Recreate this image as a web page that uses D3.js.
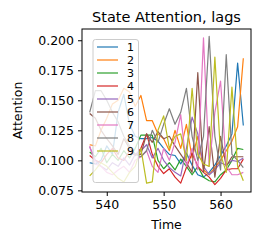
<!DOCTYPE html>
<html>
    <head>
        <title>State Attention, lags</title>
        <script src="https://d3js.org/d3.v7.min.js"></script>
        <style>
            body { margin: 0; background: white; }
            text { font-family: "DejaVu Sans", sans-serif; fill: black; }
        </style>
    </head>
    <body>
        <div id="chart"></div>
        <script>
            // time steps and one array per lag
            let times = d3.range(537, 565);
            let lagNames = ["1", "2", "3", "4", "5", "6", "7", "8", "9"];
            let lag1 = [0.098, 0.097, 0.100, 0.112, 0.105, 0.140, 0.155, 0.130, 0.120, 0.118, 0.118, 0.119, 0.116, 0.110, 0.105, 0.104, 0.097, 0.106, 0.096, 0.088, 0.086, 0.090, 0.096, 0.104, 0.112, 0.122, 0.181, 0.129];
            let lag2 = [0.113, 0.112, 0.125, 0.135, 0.147, 0.150, 0.160, 0.157, 0.145, 0.154, 0.133, 0.133, 0.122, 0.118, 0.108, 0.125, 0.110, 0.130, 0.102, 0.120, 0.092, 0.088, 0.094, 0.100, 0.108, 0.116, 0.128, 0.185];
            let lag3 = [0.107, 0.103, 0.110, 0.098, 0.105, 0.100, 0.108, 0.102, 0.110, 0.121, 0.121, 0.121, 0.100, 0.093, 0.098, 0.092, 0.101, 0.095, 0.088, 0.095, 0.086, 0.083, 0.082, 0.088, 0.092, 0.100, 0.110, 0.109];
            let lag4 = [0.104, 0.100, 0.098, 0.105, 0.110, 0.102, 0.100, 0.108, 0.104, 0.110, 0.122, 0.105, 0.095, 0.089, 0.093, 0.086, 0.081, 0.094, 0.106, 0.095, 0.090, 0.086, 0.0798, 0.085, 0.092, 0.093, 0.093, 0.101];
            let lag5 = [0.111, 0.100, 0.095, 0.092, 0.098, 0.095, 0.102, 0.096, 0.105, 0.108, 0.113, 0.102, 0.110, 0.100, 0.094, 0.090, 0.087, 0.110, 0.136, 0.122, 0.095, 0.088, 0.092, 0.098, 0.096, 0.100, 0.099, 0.102];
            let lag6 = [0.139, 0.135, 0.125, 0.118, 0.112, 0.105, 0.118, 0.110, 0.105, 0.105, 0.122, 0.115, 0.124, 0.118, 0.120, 0.112, 0.105, 0.098, 0.090, 0.173, 0.090, 0.128, 0.086, 0.120, 0.095, 0.103, 0.103, 0.103];
            let lag7 = [0.112, 0.097, 0.095, 0.090, 0.088, 0.092, 0.095, 0.090, 0.100, 0.103, 0.108, 0.095, 0.090, 0.110, 0.100, 0.115, 0.138, 0.095, 0.110, 0.092, 0.202, 0.095, 0.140, 0.166, 0.095, 0.088, 0.088, 0.090];
            let lag8 = [0.140, 0.158, 0.158, 0.150, 0.140, 0.132, 0.120, 0.112, 0.105, 0.103, 0.108, 0.125, 0.115, 0.130, 0.143, 0.130, 0.140, 0.160, 0.120, 0.100, 0.120, 0.2032, 0.120, 0.092, 0.188, 0.105, 0.100, 0.094];
            let lag9 = [0.087, 0.092, 0.098, 0.095, 0.090, 0.085, 0.082, 0.090, 0.095, 0.110, 0.081, 0.082, 0.125, 0.137, 0.110, 0.120, 0.122, 0.100, 0.160, 0.105, 0.097, 0.095, 0.186, 0.105, 0.090, 0.161, 0.095, 0.083];
            let lags = [lag1, lag2, lag3, lag4, lag5, lag6, lag7, lag8, lag9];
            let yTicks = [0.075, 0.100, 0.125, 0.150, 0.175, 0.200];
            let xTicks = [540, 550, 560];

            let width = 261, height = 243;
            let plot = {left: 82, right: 251, top: 29, bottom: 192};

            let svg = d3.select("#chart").append("svg")
                        .attr("width", width).attr("height", height)
                        .style("background-color", "white");

            // matplotlib style 5% margins around the data
            function padded(lo, hi) {
                let m = (hi - lo) * 0.05;
                return [lo - m, hi + m];
            }
            let allVals = lags.flat();
            let x = d3.scaleLinear()
                      .domain(padded(d3.min(times), d3.max(times)))
                      .range([plot.left, plot.right]);
            let y = d3.scaleLinear()
                      .domain(padded(d3.min(allVals), d3.max(allVals)))
                      .range([plot.bottom, plot.top]);

            let color = d3.scaleOrdinal()
                          .domain(lagNames)
                          .range(d3.schemeCategory10);

            // lines, clipped to the axes box
            svg.append("clipPath").attr("id", "clip")
               .append("rect")
               .attr("x", plot.left).attr("y", plot.top)
               .attr("width", plot.right - plot.left).attr("height", plot.bottom - plot.top);

            let line = d3.line()
                         .x((d, i) => x(times[i]))
                         .y(d => y(d));

            svg.append("g").attr("clip-path", "url(#clip)")
               .selectAll("path")
               .data(lags)
               .join("path")
               .attr("d", line)
               .style("fill", "none")
               .style("stroke", (d, i) => color(lagNames[i]))
               .style("stroke-width", 1.2)
               .style("stroke-linejoin", "round");

            // axes
            let xAxis = d3.axisBottom(x).tickValues(xTicks).tickSize(4).tickPadding(4)
                          .tickFormat(d3.format("d"));
            let yAxis = d3.axisLeft(y).tickValues(yTicks).tickSize(4).tickPadding(4)
                          .tickFormat(d3.format(".3f"));

            let gx = svg.append("g")
                        .attr("transform", "translate(0," + plot.bottom + ")")
                        .call(xAxis);
            let gy = svg.append("g")
                        .attr("transform", "translate(" + plot.left + ",0)")
                        .call(yAxis);
            [gx, gy].forEach(g => {
                g.select(".domain").remove();
                g.selectAll(".tick line").style("stroke", "black").style("stroke-width", 1);
                g.selectAll(".tick text").style("font-size", "12.5px").style("font-family", "DejaVu Sans").style("fill", "black");
            });

            // frame
            svg.append("rect")
               .attr("x", plot.left).attr("y", plot.top)
               .attr("width", plot.right - plot.left).attr("height", plot.bottom - plot.top)
               .style("fill", "none").style("stroke", "black").style("stroke-width", 1);

            // labels
            svg.append("text")
               .attr("x", (plot.left + plot.right) / 2).attr("y", 21.5)
               .attr("text-anchor", "middle")
               .style("font-size", "14.5px")
               .text("State Attention, lags");

            svg.append("text")
               .attr("x", (plot.left + plot.right) / 2).attr("y", 229)
               .attr("text-anchor", "middle")
               .style("font-size", "12.5px")
               .text("Time");

            svg.append("text")
               .attr("transform", "translate(21.5," + ((plot.top + plot.bottom) / 2) + ") rotate(-90)")
               .attr("text-anchor", "middle")
               .style("font-size", "12.5px")
               .text("Attention");

            // legend
            let legend = svg.append("g").attr("transform", "translate(93,39.5)");
            legend.append("rect")
                  .attr("width", 45.5).attr("height", 143)
                  .attr("rx", 2.5).attr("ry", 2.5)
                  .style("fill", "white").style("fill-opacity", 0.8)
                  .style("stroke", "#cccccc").style("stroke-width", 1);

            let rowY = d3.scaleLinear().domain([0, 8]).range([7.5, 111.5]);
            let rows = legend.selectAll("g.row")
                             .data(lagNames)
                             .join("g")
                             .attr("class", "row")
                             .attr("transform", (d, i) => "translate(0," + rowY(i) + ")");
            rows.append("line")
                .attr("x1", 4).attr("x2", 25)
                .style("stroke", d => color(d)).style("stroke-width", 1.2);
            rows.append("text")
                .attr("x", 34).attr("y", 4)
                .style("font-size", "11px")
                .text(d => d);
        </script>
    </body>
</html>
